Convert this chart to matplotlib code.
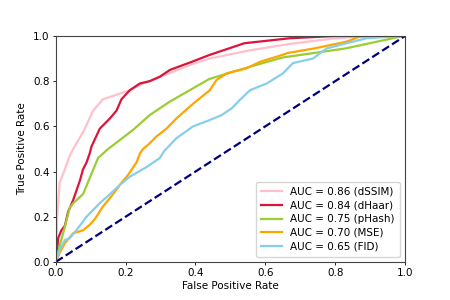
import matplotlib
matplotlib.use("Agg")
import matplotlib.pyplot as plt

# ROC curve points (fpr, tpr)
ssim_fpr = [0, 0.002, 0.004, 0.011, 0.026, 0.04, 0.05, 0.08, 0.107, 0.135, 0.174, 0.212, 0.25,
            0.30, 0.39, 0.44, 0.55, 0.67, 0.8, 0.9, 1.0]
ssim_tpr = [0, 0.10, 0.20, 0.35, 0.41, 0.47, 0.50, 0.58, 0.67, 0.72, 0.74, 0.76, 0.79,
            0.82, 0.875, 0.90, 0.935, 0.965, 0.99, 1.0, 1.0]

haar_fpr = [0, 0.002, 0.007, 0.016, 0.026, 0.035, 0.05, 0.069, 0.078, 0.088, 0.097, 0.102,
            0.126, 0.155, 0.174, 0.188, 0.212, 0.241, 0.269, 0.298, 0.327, 0.39, 0.44, 0.54,
            0.67, 0.8, 1.0]
haar_tpr = [0, 0.02, 0.106, 0.14, 0.16, 0.22, 0.275, 0.36, 0.41, 0.44, 0.48, 0.51,
            0.59, 0.635, 0.67, 0.72, 0.76, 0.79, 0.80, 0.82, 0.85, 0.886, 0.916, 0.968,
            0.99, 1.0, 1.0]

phash_fpr = [0, 0.011, 0.026, 0.04, 0.05, 0.078, 0.121, 0.15, 0.221, 0.269, 0.327, 0.44,
             0.556, 0.65, 0.83, 0.98, 1.0]
phash_tpr = [0, 0.07, 0.156, 0.24, 0.26, 0.30, 0.46, 0.50, 0.584, 0.65, 0.71, 0.81,
             0.864, 0.905, 0.945, 0.995, 1.0]

mse_fpr = [0, 0.011, 0.026, 0.05, 0.078, 0.097, 0.112, 0.135, 0.164, 0.188, 0.207, 0.231,
           0.241, 0.25, 0.269, 0.288, 0.317, 0.346, 0.393, 0.441, 0.46, 0.49, 0.546, 0.585,
           0.632, 0.665, 0.74, 0.833, 0.87, 1.0]
mse_tpr = [0, 0.04, 0.083, 0.127, 0.14, 0.164, 0.19, 0.245, 0.30, 0.35, 0.385, 0.44,
           0.48, 0.50, 0.525, 0.555, 0.59, 0.636, 0.70, 0.76, 0.805, 0.835, 0.857, 0.886,
           0.908, 0.925, 0.945, 0.975, 0.997, 1.0]

fid_fpr = [0, 0.011, 0.026, 0.04, 0.059, 0.088, 0.126, 0.155, 0.183, 0.212, 0.26, 0.298,
           0.31, 0.345, 0.393, 0.441, 0.475, 0.504, 0.527, 0.556, 0.604, 0.651, 0.679,
           0.736, 0.776, 0.833, 0.89, 0.957, 1.0]
fid_tpr = [0, 0.053, 0.097, 0.105, 0.14, 0.20, 0.26, 0.30, 0.34, 0.377, 0.42, 0.46,
           0.49, 0.547, 0.60, 0.628, 0.65, 0.68, 0.717, 0.76, 0.79, 0.835, 0.88,
           0.90, 0.945, 0.968, 0.99, 0.997, 1.0]

labels = ['AUC = 0.86 (dSSIM)', 'AUC = 0.84 (dHaar)', 'AUC = 0.75 (pHash)',
          'AUC = 0.70 (MSE)', 'AUC = 0.65 (FID)']
colors = ['pink', 'crimson', 'yellowgreen', 'orange', 'skyblue']

curves = [(ssim_fpr, ssim_tpr), (haar_fpr, haar_tpr), (phash_fpr, phash_tpr),
          (mse_fpr, mse_tpr), (fid_fpr, fid_tpr)]

fig = plt.figure(figsize=(4.5, 3), dpi=100)
ax = fig.add_axes([0.124, 0.127, 0.776, 0.753])

for (fpr, tpr), lab, col in zip(curves, labels, colors):
    ax.plot(fpr, tpr, color=col, lw=1.6, label=lab)
ax.plot([0, 1], [0, 1], color='navy', lw=1.6, linestyle='--')

ax.set_xlim(0, 1)
ax.set_ylim(0, 1)
ax.set_xlabel('False Positive Rate', fontsize=7.5, labelpad=2)
ax.set_ylabel('True Positive Rate', fontsize=7.5, labelpad=4)
ax.tick_params(labelsize=7.5, length=2.5, width=0.6, pad=2)
for s in ax.spines.values():
    s.set_linewidth(0.8)
    s.set_color('#444444')
ax.legend(loc='lower right', fontsize=7.5, handlelength=2.0, borderpad=0.5,
          labelspacing=0.35)

fig.savefig('out.png', dpi=100)
